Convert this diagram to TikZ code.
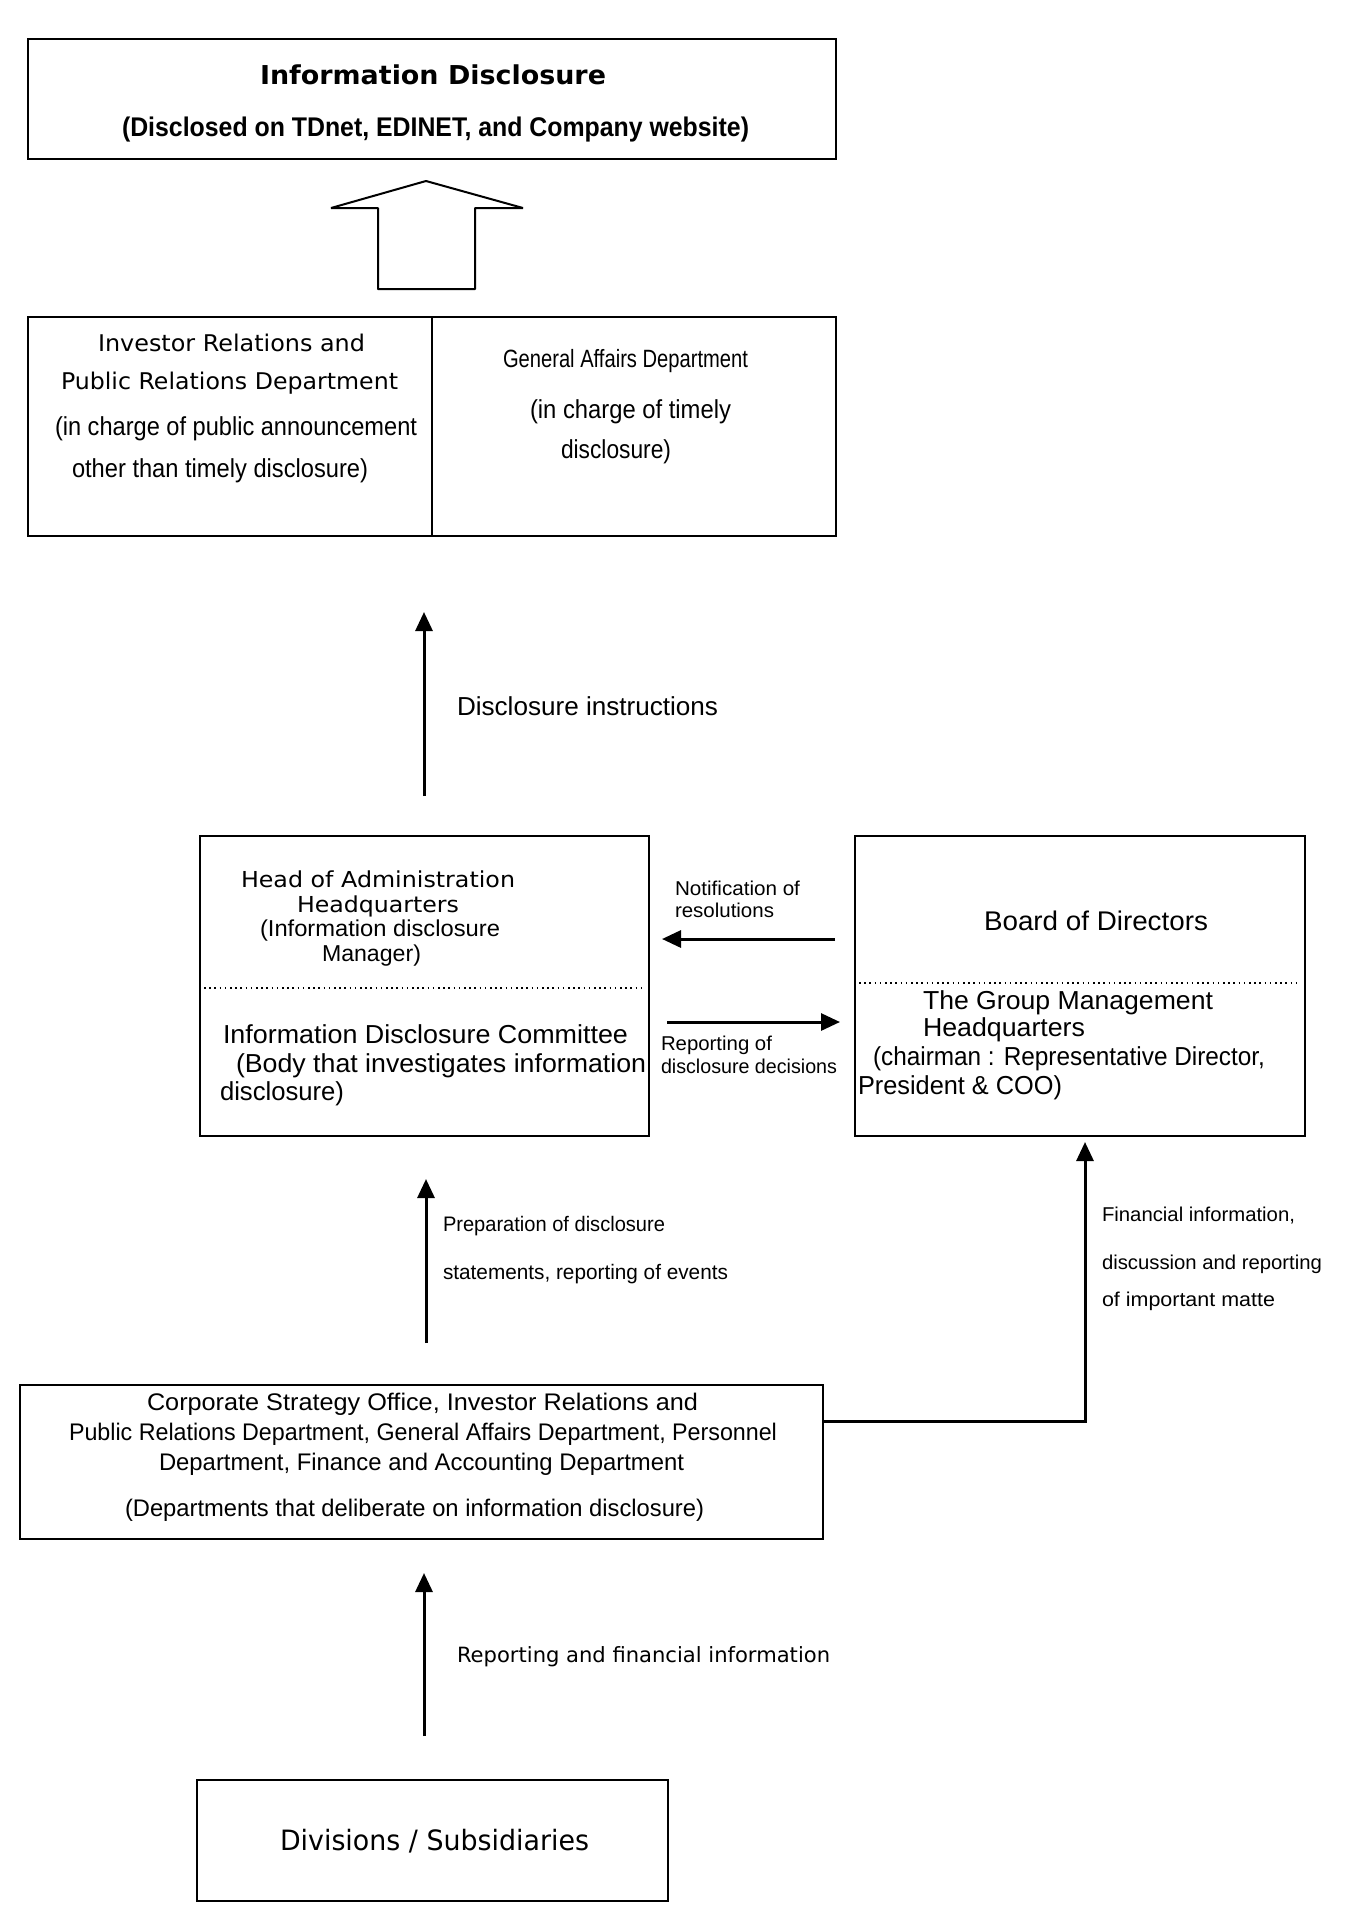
\documentclass[tikz,border=0pt]{standalone}
\usepackage{fontspec}
\setmainfont{Liberation Sans}
\newfontfamily\dv{DejaVu Sans}
\usepackage{graphicx}
\usetikzlibrary{arrows.meta}
\newcommand\fs[1]{\fontsize{#1}{#1}\selectfont}
% name, position, anchor, font, target width, text
\newcommand\txl[6]{\node[anchor=#3,inner sep=0pt,outer sep=0pt] (#1) at (#2) {#4\resizebox{#5pt}{\height}{#6}};}
\tikzset{
  box/.style={draw, line width=2.2pt, inner sep=0pt, outer sep=0pt},
  arr/.style={-{Triangle[length=19pt,width=17pt]}, line width=3pt},
  dots/.style={line width=1.6pt, dash pattern=on 1.6pt off 3.6pt},
}
\begin{document}
\begin{tikzpicture}[x=1pt,y=-1pt]
\fill[white] (0,0) rectangle (1354,1920);
\useasboundingbox (0,0) rectangle (1354,1920);

% ---------- boxes ----------
\node[box, minimum width=808pt, minimum height=120pt] (info) at (432,99) {};
\node[box, minimum width=404pt, minimum height=219pt] (ir) at (230,426.5) {};
\node[box, minimum width=404pt, minimum height=219pt] (ga) at (634,426.5) {};
\node[box, minimum width=449pt, minimum height=300pt] (head) at (424.5,986) {};
\node[box, minimum width=450pt, minimum height=300pt] (board) at (1080,986) {};
\node[box, minimum width=803pt, minimum height=154pt] (corp) at (421.5,1462) {};
\node[box, minimum width=471pt, minimum height=121pt] (div) at (432.5,1840.5) {};

% dotted dividers
\draw[dots] (head.west |- 0,988) ++(4,0) -- ([xshift=-4pt]head.east |- 0,988);
\draw[dots] (board.west |- 0,983) ++(4,0) -- ([xshift=-4pt]board.east |- 0,983);

% ---------- texts ----------
\txl{t1}{260,84}{base west}{\dv\bfseries\fs{26}}{346}{Information Disclosure}
\txl{t2}{122,136}{base west}{\bfseries\fs{27}}{627}{(Disclosed on TDnet, EDINET, and Company website)}

\txl{t3}{98,351}{base west}{\dv\fs{23}}{267}{Investor Relations and}
\txl{t4}{61,389}{base west}{\dv\fs{23}}{337}{Public Relations Department}
\txl{t5}{55,435}{base west}{\fs{26}}{362}{(in charge of public announcement}
\txl{t6}{72,477}{base west}{\fs{26}}{296}{other than timely disclosure)}

\txl{t7}{503,367}{base west}{\fs{25}}{245}{General Affairs Department}
\txl{t8}{530,418}{base west}{\fs{26}}{201}{(in charge of timely}
\txl{t9}{561,458}{base west}{\fs{26}}{110}{disclosure)}

\txl{t10}{457,715}{base west}{\fs{26}}{261}{Disclosure instructions}

\txl{t11}{241,887}{base west}{\dv\fs{22}}{274}{Head of Administration}
\txl{t12}{297,912}{base west}{\dv\fs{22}}{162}{Headquarters}
\txl{t13}{260,936}{base west}{\fs{23}}{240}{(Information disclosure}
\txl{t14}{322,961}{base west}{\fs{23}}{99}{Manager)}

\txl{t15}{223,1043}{base west}{\fs{26}}{405}{Information Disclosure Committee}
\txl{t16}{236,1072}{base west}{\fs{26}}{410}{(Body that investigates information}
\txl{t17}{220,1100}{base west}{\fs{26}}{124}{disclosure)}

\txl{t18}{984,930}{base west}{\fs{27}}{224}{Board of Directors}
\txl{t19}{923,1009}{base west}{\fs{26}}{290}{The Group Management}
\txl{t20}{923,1036}{base west}{\fs{26}}{162}{Headquarters}
\txl{t21}{873,1065}{base west}{\fs{26}}{392}{(chairman : Representative Director,}
\txl{t22}{858,1094}{base west}{\fs{26}}{204}{President \& COO)}

\txl{t23}{675,895}{base west}{\fs{20}}{125}{Notification of}
\txl{t24}{675,917}{base west}{\fs{20}}{99}{resolutions}
\txl{t25}{661,1050}{base west}{\fs{20}}{111}{Reporting of}
\txl{t26}{661,1073}{base west}{\fs{20}}{176}{disclosure decisions}

\txl{t27}{443,1231}{base west}{\fs{21}}{222}{Preparation of disclosure}
\txl{t28}{443,1279}{base west}{\fs{21}}{285}{statements, reporting of events}

\txl{t29}{147,1410}{base west}{\fs{24}}{551}{Corporate Strategy Office, Investor Relations and}
\txl{t30}{69,1440}{base west}{\fs{24}}{708}{Public Relations Department, General Affairs Department, Personnel}
\txl{t31}{159,1470}{base west}{\fs{24}}{525}{Department, Finance and Accounting Department}
\txl{t32}{125,1516}{base west}{\fs{24}}{579}{(Departments that deliberate on information disclosure)}

\txl{t33}{1102,1221}{base west}{\fs{20}}{193}{Financial information,}
\txl{t34}{1102,1269}{base west}{\fs{20}}{220}{discussion and reporting}
\txl{t35}{1102,1306}{base west}{\fs{20}}{173}{of important matte}

\txl{t36}{457,1662}{base west}{\dv\fs{21}}{373}{Reporting and financial information}
\txl{t37}{280,1850}{base west}{\dv\fs{28}}{309}{Divisions / Subsidiaries}

% ---------- connectors ----------
\draw[line width=2pt, line join=bevel]
  (378,289) -- (378,208) -- (331,208) -- (426,181) -- (523,208) -- (475,208) -- (475,289) -- cycle;

\coordinate (i1) at (424,796); \coordinate (i2) at (424,612);
\draw[arr] (i1) -- (i2);
\coordinate (n1) at (835,939); \coordinate (n2) at (662,939);
\draw[arr] (n1) -- (n2);
\coordinate (r1) at (667,1022); \coordinate (r2) at (840,1022);
\draw[arr] (r1) -- (r2);
\coordinate (p1) at (426,1343); \coordinate (p2) at (426,1179);
\draw[arr] (p1) -- (p2);
\coordinate (f1) at (823,1421); \coordinate (f2) at (1085,1142);
\draw[arr] (corp.east |- f1) -| (f2);
\coordinate (d1) at (424,1736); \coordinate (d2) at (424,1573);
\draw[arr] (d1) -- (d2);
\end{tikzpicture}
\end{document}
